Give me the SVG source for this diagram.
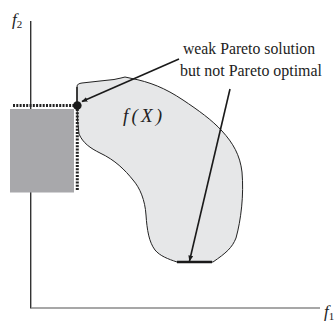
<svg xmlns="http://www.w3.org/2000/svg" width="335" height="322" viewBox="0 0 335 322">
<style>
.lbl{font-family:"Liberation Serif","Times New Roman",serif;fill:#222}
.it{font-style:italic}
.arr{stroke:#1a1a1a;stroke-width:1.6;fill:none;marker-end:url(#ah)}
.dot{stroke:#222;stroke-width:3;stroke-dasharray:2 1.3;fill:none}
</style>
<defs>
<marker id="ah" viewBox="0 0 10 8" refX="9" refY="4" markerWidth="6" markerHeight="4.8" orient="auto" markerUnits="userSpaceOnUse">
<path d="M0,0 L10,4 L0,8 Z" fill="#1a1a1a"/>
</marker>
</defs>
<g id="axes">
<line x1="30.7" y1="21" x2="30.7" y2="308.5" stroke="#333" stroke-width="1.4"/>
<line x1="31" y1="308" x2="320" y2="308" stroke="#8a8a8a" stroke-width="1.6"/>
<text class="lbl it" x="12" y="25" font-size="17">f<tspan font-style="normal" font-size="11" dy="3">2</tspan></text>
<text class="lbl it" x="324" y="317" font-size="17">f<tspan font-style="normal" font-size="11" dy="3">1</tspan></text>
</g>
<g id="dominated">
<rect x="10" y="109" width="64" height="83.5" fill="#a8a8ab"/>
</g>
<g id="feasible">
<path d="M77,105 L77,87 C77,84 79,83.5 82,83 L100,81 L114,79.5 L121,78 L125,77 L131,78.3 C150,82 165,88 183,100 C198,110 212,120 222,131 C233,143 240,155 242,172 C244,195 241,220 236,238 C232,248 226,253 213,262 L177,262 C168,259 160,256 155,250 C149,242 147,230 146,215 C145,200 140,188 133,180 C125,170 115,160 100,153 C90,148 83,143 79,134 L77.5,120 Z" fill="#e6e7e8" stroke="#222" stroke-width="1"/>
<line x1="77" y1="105" x2="77" y2="87" stroke="#222" stroke-width="1.5"/>
<line x1="177" y1="262" x2="212" y2="262" stroke="#1a1a1a" stroke-width="2.5"/>
<text class="lbl it" x="123" y="122" font-size="19" textLength="39" lengthAdjust="spacing">f(X)</text>
</g>
<g id="front">
<line class="dot" x1="13" y1="105.6" x2="77" y2="105.6"/>
<line class="dot" x1="77.3" y1="105.6" x2="77.3" y2="190"/>
<circle cx="77.3" cy="105.5" r="4.3" fill="#1a1a1a"/>
</g>
<g id="label">
<text class="lbl" x="183" y="54" font-size="16.5" textLength="132" lengthAdjust="spacingAndGlyphs">weak Pareto solution</text>
<text class="lbl" x="180" y="76" font-size="16.5" textLength="142" lengthAdjust="spacingAndGlyphs">but not Pareto optimal</text>
</g>
<g id="connectors">
<line class="arr" x1="179" y1="59" x2="82" y2="101.5"/>
<line class="arr" x1="230" y1="89" x2="189.5" y2="261"/>
</g>
</svg>
